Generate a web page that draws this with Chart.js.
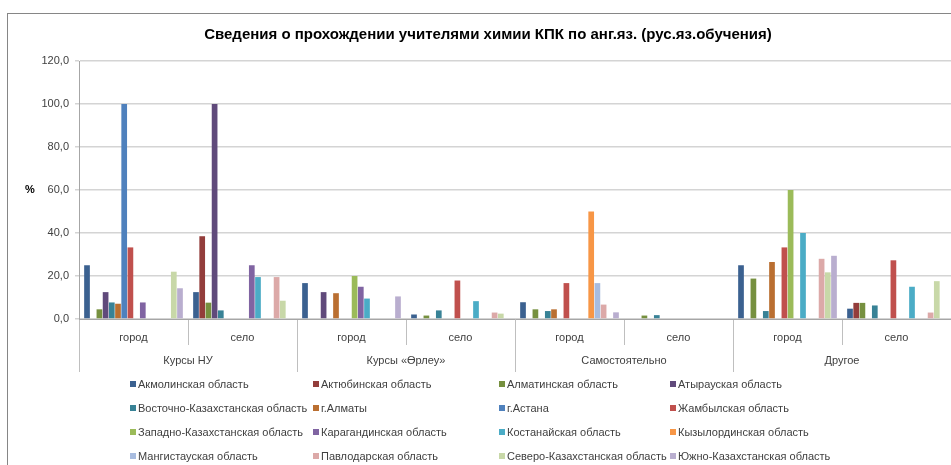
<!DOCTYPE html>
<html>
<head>
<meta charset="utf-8">
<script src="https://cdn.jsdelivr.net/npm/chart.js@4/dist/chart.umd.min.js"></script>
<style>
body{margin:0;background:#fff;overflow:hidden;}
#frame{position:absolute;left:7px;top:13px;width:960px;height:460px;border-top:1px solid #868686;border-left:1px solid #868686;}
#chart{position:absolute;left:0;top:0;}
#legend{position:absolute;left:122px;top:358px;display:grid;grid-template-columns:183px 186px 171px 200px;grid-auto-rows:24px;font-family:"Liberation Sans",Arial,sans-serif;font-size:11px;color:#404040;}
#legend div{display:flex;align-items:center;white-space:nowrap;}
#legend span{display:inline-block;width:6px;height:6px;margin-right:2px;}
</style>
</head>
<body>
<div id="frame">
<canvas id="chart" width="960" height="451"></canvas>
<div id="legend"></div>
</div>
<script>

/* DATA */

const subLabels=["город","село","город","село","город","село","город","село"];
const groupLabels=["Курсы НУ","Курсы «Өрлеу»","Самостоятельно","Другое"];

const regions=["Акмолинская область","Актюбинская область","Алматинская область","Атырауская область",
"Восточно-Казахстанская область","г.Алматы","г.Астана","Жамбылская область",
"Западно-Казахстанская область","Карагандинская область","Костанайская область","Кызылординская область",
"Мангистауская область","Павлодарская область","Северо-Казахстанская область","Южно-Казахстанская область"];

const akmola=[25,12.5,16.7,2.1,7.8,null,25,4.8];
const aktobe=[null,38.5,null,null,null,null,null,7.5];
const almatyObl=[4.5,7.6,null,1.6,4.5,1.6,18.8,7.5];
const atyrau=[12.5,100,12.5,null,null,null,null,null];
const vko=[7.7,4,null,4,3.7,1.8,3.7,6.3];
const almatyCity=[7.1,null,12,null,4.5,null,26.5,null];
const astana=[100,null,null,null,null,null,null,null];
const zhambyl=[33.3,null,null,17.9,16.7,null,33.3,27.3];
const zko=[null,null,20,null,null,null,60,null];
const karaganda=[7.7,25,15,null,null,null,null,null];
const kostanay=[null,19.5,9.5,8.3,null,null,40,15];
const kyzylorda=[null,null,null,null,50,null,null,null];
const mangistau=[null,null,null,null,16.7,null,null,null];
const pavlodar=[null,19.5,null,3,6.7,null,28,3];
const sko=[22,8.5,null,2.5,null,null,21.7,17.6];
const yuko=[14.3,null,10.5,null,3.1,null,29.4,null];

const values=[akmola,aktobe,almatyObl,atyrau,vko,almatyCity,astana,zhambyl,
zko,karaganda,kostanay,kyzylorda,mangistau,pavlodar,sko,yuko];

const colors=["#3B6190","#933D3B","#76903F","#604A7B","#388296","#BA6F31",
"#4F81BD","#C0504D","#9BBB59","#8064A2","#4BACC6","#F79646",
"#A8BCDF","#DCA9A8","#C8D8A8","#B9AECF"];

const chartTitle="Сведения о прохождении учителями химии КПК по анг.яз. (рус.яз.обучения)";


/* FONT */

const fontFamily='"Liberation Sans",Arial,sans-serif';


/* TITLE AND Y TITLE PLUGIN */

const titles={
id:"titles",
afterDraw(chart){
const ctx=chart.ctx;
const area=chart.chartArea;
ctx.save();
ctx.fillStyle="#000";
ctx.textAlign="center";
ctx.textBaseline="middle";
ctx.font="bold 15px "+fontFamily;
ctx.fillText(chartTitle,chart.width/2,21);
ctx.font="bold 11px "+fontFamily;
ctx.fillText("%",22,(area.top+area.bottom)/2);
ctx.restore();
}
};


/* CREATE CHART */

const chart=new Chart(document.getElementById("chart"),{

type:"bar",

data:{
labels:subLabels,
datasets:regions.map((r,i)=>({
label:r,
data:values[i],
backgroundColor:colors[i],
borderWidth:0,
categoryPercentage:0.91,
barPercentage:0.92
}))
},

options:{
responsive:false,
animation:false,
layout:{padding:{top:47,right:17,bottom:93,left:0}},

plugins:{
legend:{display:false},
tooltip:{enabled:false},
title:{display:false}
},

scales:{
x:{
weight:0,
offset:true,
grid:{offset:true,drawOnChartArea:false,tickLength:26,color:"#bfbfbf"},
border:{color:"#a6a6a6"},
ticks:{color:"#404040",font:{family:fontFamily,size:11},padding:-14,autoSkip:false,maxRotation:0},
afterFit(scale){scale.height=26;}
},

x2:{
type:"category",
position:"bottom",
weight:1,
labels:groupLabels,
offset:true,
grid:{offset:true,drawOnChartArea:false,tickLength:27,color:"#bfbfbf"},
border:{display:false},
ticks:{color:"#404040",font:{family:fontFamily,size:11},padding:-18,autoSkip:false,maxRotation:0},
afterFit(scale){scale.height=27;}
},

y:{
min:0,
max:120,
ticks:{
stepSize:20,
color:"#404040",
font:{family:fontFamily,size:11},
padding:6,
callback:v=>v.toFixed(1).replace(".",",")
},
grid:{color:"#d4d4d4",lineWidth:1.5,tickLength:4},
border:{color:"#a6a6a6"},
afterFit(scale){scale.width=71;}
}
}

},

plugins:[titles]

});


/* HTML LEGEND */

const legendBox=document.getElementById("legend");

chart.data.datasets.forEach(ds=>{
const item=document.createElement("div");
const box=document.createElement("span");
box.style.background=ds.backgroundColor;
item.appendChild(box);
item.appendChild(document.createTextNode(ds.label));
legendBox.appendChild(item);
});

</script>
</body>
</html>
